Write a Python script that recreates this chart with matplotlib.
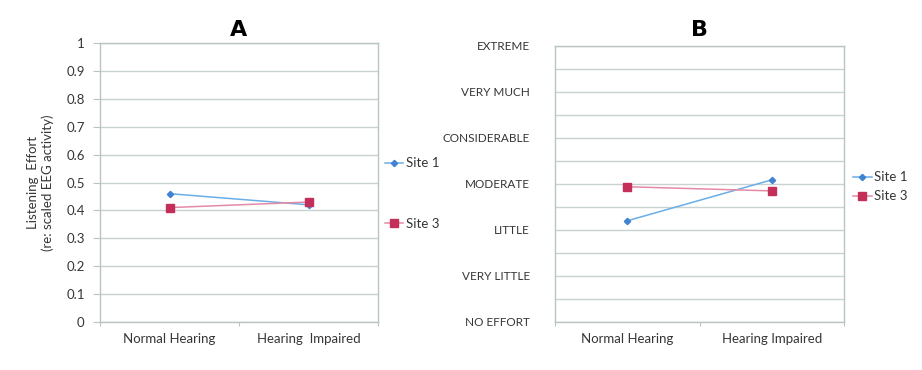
import numpy as np
import matplotlib.pyplot as plt
from matplotlib.ticker import MultipleLocator, FixedLocator, NullFormatter

plt.rcParams['font.family'] = ['Lato', 'DejaVu Sans']

# ------------------------------------------------------------------
# dados
# ------------------------------------------------------------------
categorias = ['Normal Hearing', 'Hearing  Impaired']
categorias_b = ['Normal Hearing', 'Hearing Impaired']
series = ['Site 1', 'Site 3']

# painel A: esforco de escuta (EEG escalado)
eeg_site1 = [0.46, 0.42]
eeg_site3 = [0.41, 0.43]

# painel B: esforco auto-relatado (0 = NO EFFORT ... 6 = EXTREME)
escala_b = ['NO EFFORT', 'VERY LITTLE', 'LITTLE', 'MODERATE',
            'CONSIDERABLE', 'VERY MUCH', 'EXTREME']
relato_site1 = [2.20, 3.09]
relato_site3 = [2.94, 2.85]

cor_texto = '#363636'
cor_grade = '#c9d2d2'
cor_borda = '#b9c4c4'
estilos = {
    'Site 1': dict(color='#6aaee6', marker='D', markersize=3.2,
                   markerfacecolor='#3f83d2', markeredgecolor='#3f83d2', lw=1.1),
    'Site 3': dict(color='#e58aa6', marker='s', markersize=5.5,
                   markerfacecolor='#c42f5a', markeredgecolor='#c42f5a', lw=1.1),
}

W, H = 922, 370
fig = plt.figure(figsize=(W / 100, H / 100), dpi=100)


def eixo_px(esq, topo, dir_, base):
    return fig.add_axes([esq / W, 1 - base / H, (dir_ - esq) / W, (base - topo) / H])


def estilizar(eixo):
    for lado in eixo.spines.values():
        lado.set_color(cor_borda)
        lado.set_linewidth(1.0)
    eixo.set_xlim(0, 2)
    eixo.xaxis.set_major_locator(FixedLocator([0, 1, 2]))
    eixo.xaxis.set_major_formatter(NullFormatter())
    eixo.xaxis.set_minor_locator(FixedLocator([0.5, 1.5]))
    eixo.tick_params(axis='x', which='major', length=3, color=cor_borda)
    eixo.tick_params(axis='x', which='minor', length=0, pad=8,
                     labelsize=9.5, labelcolor=cor_texto)
    eixo.grid(True, axis='y', which='both', color=cor_grade, lw=1.0)
    eixo.set_axisbelow(True)


x = np.array([0.5, 1.5])

# ------------------------------------------------------------------
# painel A
# ------------------------------------------------------------------
ax_a = eixo_px(100, 43, 378, 322)
estilizar(ax_a)
ax_a.plot(x, eeg_site1, label='Site 1', **estilos['Site 1'])
ax_a.plot(x, eeg_site3, label='Site 3', **estilos['Site 3'])
ax_a.set_xticks(x, categorias, minor=True)
ax_a.set_ylim(0, 1)
ax_a.set_yticks(np.arange(0, 1.01, 0.1),
                ['0'] + [f'{v:.1f}' for v in np.arange(0.1, 0.95, 0.1)] + ['1'])
ax_a.tick_params(axis='y', length=5, color=cor_borda, labelsize=9.5,
                 labelcolor=cor_texto, pad=6)
ax_a.set_ylabel('Listening  Effort\n(re: scaled EEG activity)', fontsize=9.5,
                color=cor_texto, labelpad=9, linespacing=1.2)
ax_a.set_title('A', fontsize=16, fontweight='bold', family='DejaVu Sans', pad=5)
ax_a.legend(loc='center left', bbox_to_anchor=(1.0, 0.46), frameon=False,
            fontsize=9.5, labelspacing=3.7, handlelength=1.4, handletextpad=0.2,
            borderaxespad=0.1, labelcolor=cor_texto)

# ------------------------------------------------------------------
# painel B
# ------------------------------------------------------------------
ax_b = eixo_px(555, 46, 844, 322)
estilizar(ax_b)
ax_b.plot(x, relato_site1, label='Site 1', **estilos['Site 1'])
ax_b.plot(x, relato_site3, label='Site 3', **estilos['Site 3'])
ax_b.set_xticks(x, categorias_b, minor=True)
ax_b.set_ylim(0, 6)
ax_b.set_yticks(range(len(escala_b)), escala_b)
ax_b.yaxis.set_minor_locator(MultipleLocator(0.5))
ax_b.tick_params(axis='y', which='both', length=0, labelsize=8.5,
                 labelcolor=cor_texto, pad=18)
ax_b.set_title('B', fontsize=16, fontweight='bold', family='DejaVu Sans', pad=7)
ax_b.legend(loc='center left', bbox_to_anchor=(1.0, 0.49), frameon=False,
            fontsize=9.5, labelspacing=0.55, handlelength=1.4, handletextpad=0.2,
            borderaxespad=0.3, labelcolor=cor_texto)

fig.savefig('out.png', dpi=100)
